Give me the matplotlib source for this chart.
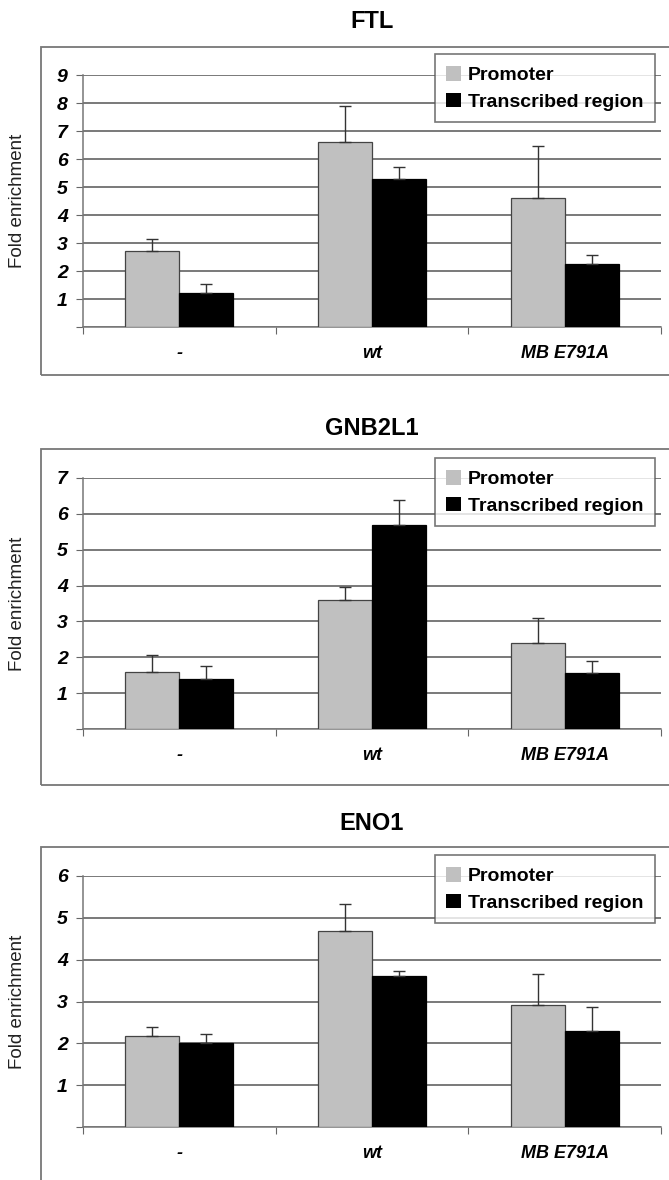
import matplotlib
matplotlib.use("Agg")
import matplotlib.pyplot as plt
from matplotlib.patches import Rectangle
import numpy as np

plt.rcParams['font.family'] = ['Liberation Sans', 'DejaVu Sans']

categories = ['-', 'wt', 'MB E791A']
series_names = ['Promoter', 'Transcribed region']

# FTL
ftl_promoter = [2.7, 6.6, 4.6]
ftl_promoter_top = [3.15, 7.9, 6.45]
ftl_transcribed = [1.2, 5.3, 2.25]
ftl_transcribed_top = [1.52, 5.72, 2.57]

# GNB2L1
gnb_promoter = [1.6, 3.6, 2.4]
gnb_promoter_top = [2.05, 3.95, 3.1]
gnb_transcribed = [1.4, 5.7, 1.55]
gnb_transcribed_top = [1.75, 6.4, 1.9]

# ENO1
eno_promoter = [2.18, 4.68, 2.92]
eno_promoter_top = [2.4, 5.32, 3.65]
eno_transcribed = [2.0, 3.6, 2.3]
eno_transcribed_top = [2.22, 3.73, 2.87]

panels = [
    ('FTL', 9, ftl_promoter, ftl_promoter_top, ftl_transcribed, ftl_transcribed_top),
    ('GNB2L1', 7, gnb_promoter, gnb_promoter_top, gnb_transcribed, gnb_transcribed_top),
    ('ENO1', 6, eno_promoter, eno_promoter_top, eno_transcribed, eno_transcribed_top),
]

W, H = 669, 1180
fig = plt.figure(figsize=(W / 100, H / 100), dpi=100)

# pixel layout: (title y, box top, box bottom, axis top, axis bottom, legend top)
layout = [
    (22, 47, 375, 75, 327, 54),
    (428, 449, 785, 478, 729, 458),
    (823, 847, 1195, 876, 1127, 855),
]
ax_left, ax_right = 83, 661
box_left = 41

grey = '#c0c0c0'
grid_col = '#555555'
width = 0.28

for (title, ymax, p, p_top, t, t_top), (ty, bt, bb, at, ab, lt) in zip(panels, layout):
    # outer chart border
    fig.patches.append(Rectangle((box_left / W, 1 - bb / H), (W + 20 - box_left) / W, (bb - bt) / H,
                                 transform=fig.transFigure, fill=False, edgecolor='#777777',
                                 lw=1.3, clip_on=False))
    fig.text((ax_left + ax_right) / 2 / W, 1 - ty / H, title, ha='center', va='center',
             fontsize=17, fontweight='bold')

    ax = fig.add_axes([ax_left / W, 1 - ab / H, (ax_right - ax_left) / W, (ab - at) / H])
    x = np.arange(len(categories))
    p_err = [np.zeros(3), np.array(p_top) - np.array(p)]
    t_err = [np.zeros(3), np.array(t_top) - np.array(t)]
    ax.bar(x - width / 2, p, width, color=grey, edgecolor='#444444', lw=0.9,
           label=series_names[0], zorder=3)
    ax.bar(x + width / 2, t, width, color='black', edgecolor='black', lw=0.9,
           label=series_names[1], zorder=3)
    ax.errorbar(x - width / 2, p, yerr=p_err, fmt='none', ecolor='#333333', elinewidth=1,
                capsize=4, capthick=1, zorder=4)
    ax.errorbar(x + width / 2, t, yerr=t_err, fmt='none', ecolor='#333333', elinewidth=1,
                capsize=4, capthick=1, zorder=4)

    ax.set_xlim(-0.5, 2.5)
    ax.set_ylim(0, ymax)
    ax.set_yticks(range(0, ymax + 1))
    ax.set_yticklabels([''] + [str(v) for v in range(1, ymax + 1)])
    ax.yaxis.grid(True, color=grid_col, lw=1.1, zorder=0)
    ax.set_axisbelow(True)

    ax.set_xticks([-0.5, 0.5, 1.5, 2.5])
    ax.set_xticklabels([])
    ax.set_xticks(x, minor=True)
    ax.set_xticklabels(categories, minor=True)
    ax.tick_params(axis='x', which='minor', length=0, pad=13)
    ax.tick_params(axis='x', which='major', length=5, color='#666666', direction='out')
    ax.tick_params(axis='y', length=5, color='#666666', direction='out', pad=6)
    for lab in ax.get_yticklabels():
        lab.set_fontsize(14)
        lab.set_fontweight('bold')
        lab.set_fontstyle('italic')
    for lab in ax.get_xticklabels(minor=True):
        lab.set_fontsize(13)
        lab.set_fontweight('bold')
        lab.set_fontstyle('italic')

    for s in ['top', 'right']:
        ax.spines[s].set_visible(False)
    for s in ['left', 'bottom']:
        ax.spines[s].set_color('#777777')
        ax.spines[s].set_linewidth(1.1)

    ax.set_ylabel('Fold enrichment', fontsize=13.5, color='#222222')
    ax.yaxis.set_label_coords((26 - ax_left) / (ax_right - ax_left), 0.5)

    leg = ax.legend(loc='upper right', bbox_to_anchor=(655 / W, 1 - lt / H),
                    bbox_transform=fig.transFigure, frameon=True, fancybox=False,
                    prop={'size': 14, 'weight': 'bold'}, handlelength=0.75, handleheight=0.8,
                    handletextpad=0.35, borderpad=0.6, labelspacing=0.45, borderaxespad=0)
    leg.get_frame().set_edgecolor('#555555')
    leg.get_frame().set_linewidth(1.2)
    for h in leg.legend_handles:
        h.set_edgecolor('none')
    leg.set_zorder(5)

fig.savefig('out.png', dpi=100)
